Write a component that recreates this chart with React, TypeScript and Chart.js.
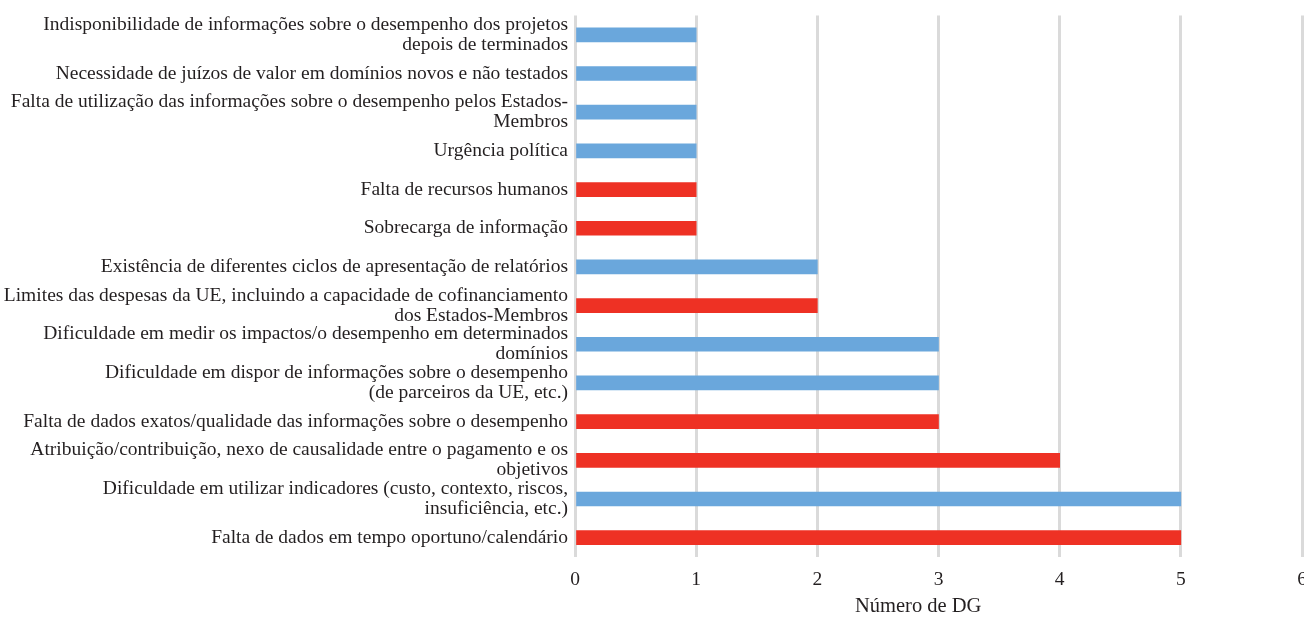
import React, { useEffect, useRef } from "react";
import { Chart, registerables } from "chart.js";

Chart.register(...registerables);

// Obstacles, top to bottom; multi-line labels are arrays of lines
const obstacles: (string | string[])[] = [
  ["Indisponibilidade de informações sobre o desempenho dos projetos", "depois de terminados"],
  "Necessidade de juízos de valor em domínios novos e não testados",
  ["Falta de utilização das informações sobre o desempenho pelos Estados-", "Membros"],
  "Urgência política",
  "Falta de recursos humanos",
  "Sobrecarga de informação",
  "Existência de diferentes ciclos de apresentação de relatórios",
  ["Limites das despesas da UE, incluindo a capacidade de cofinanciamento", "dos Estados-Membros"],
  ["Dificuldade em medir os impactos/o desempenho em determinados", "domínios"],
  ["Dificuldade em dispor de informações sobre o desempenho", "(de parceiros da UE, etc.)"],
  "Falta de dados exatos/qualidade das informações sobre o desempenho",
  ["Atribuição/contribuição, nexo de causalidade entre o pagamento e os", "objetivos"],
  ["Dificuldade em utilizar indicadores (custo, contexto, riscos,", "insuficiência, etc.)"],
  "Falta de dados em tempo oportuno/calendário",
];

// Number of DGs reporting each obstacle
const dgCounts: number[] = [1, 1, 1, 1, 1, 1, 2, 2, 3, 3, 3, 4, 5, 5];

// Highlighted obstacles are drawn in red
const highlighted: boolean[] = [
  false, false, false, false, true, true, false, true, false, false, true, true, false, true,
];

const xTicks: number[] = [0, 1, 2, 3, 4, 5, 6];
const xTitle = "Número de DG";

const BLUE = "#6aa7dc";
const RED = "#ee3124";
const GRID = "#dadada";
const TEXT = "#231f20";
const FONT = "'Liberation Serif', 'Times New Roman', serif";

const axisTitlePlugin = {
  id: "axisTitle",
  afterDraw(chart: Chart) {
    const { ctx, chartArea } = chart;
    ctx.save();
    ctx.font = `20.5px ${FONT}`;
    ctx.fillStyle = TEXT;
    ctx.textAlign = "center";
    ctx.textBaseline = "middle";
    const cx = chartArea.left + (chartArea.right - chartArea.left) * 0.472;
    ctx.fillText(xTitle, cx, 607);
    ctx.restore();
  },
};

export default function App() {
  const canvasRef = useRef<HTMLCanvasElement | null>(null);

  useEffect(() => {
    if (!canvasRef.current) return;
    const chart = new Chart(canvasRef.current, {
      type: "bar",
      data: {
        labels: obstacles,
        datasets: [
          {
            data: dgCounts,
            backgroundColor: highlighted.map((h) => (h ? RED : BLUE)),
            barThickness: 14,
          },
        ],
      },
      plugins: [axisTitlePlugin],
      options: {
        indexAxis: "y",
        animation: false,
        responsive: true,
        maintainAspectRatio: false,
        layout: { padding: { left: 0, right: 2, top: 15.5, bottom: 0 } },
        plugins: {
          legend: { display: false },
          tooltip: { enabled: false },
        },
        scales: {
          x: {
            min: 0,
            max: 6,
            afterBuildTicks: (scale: any) => {
              scale.ticks = xTicks.map((v) => ({ value: v }));
            },
            afterFit: (scale: any) => {
              scale.height = 60;
              scale.paddingLeft = 0;
              scale.paddingRight = 0;
            },
            grid: { color: GRID, lineWidth: 3, drawTicks: false },
            border: { display: false },
            ticks: {
              padding: 11,
              color: TEXT,
              font: { family: FONT, size: 19.5 },
            },
          },
          y: {
            afterFit: (scale: any) => {
              scale.width = 575;
              scale.paddingTop = 0;
              scale.paddingBottom = 0;
            },
            grid: { display: false, drawTicks: false },
            border: { display: false },
            ticks: {
              padding: 7,
              color: TEXT,
              font: { family: FONT, size: 19.5, lineHeight: 1.03 },
              autoSkip: false,
            },
          },
        },
      },
    });
    return () => chart.destroy();
  }, []);

  return (
    <div style={{ position: "fixed", left: 0, top: 0, width: 1304, height: 617, background: "#fff" }}>
      <canvas ref={canvasRef} />
    </div>
  );
}
